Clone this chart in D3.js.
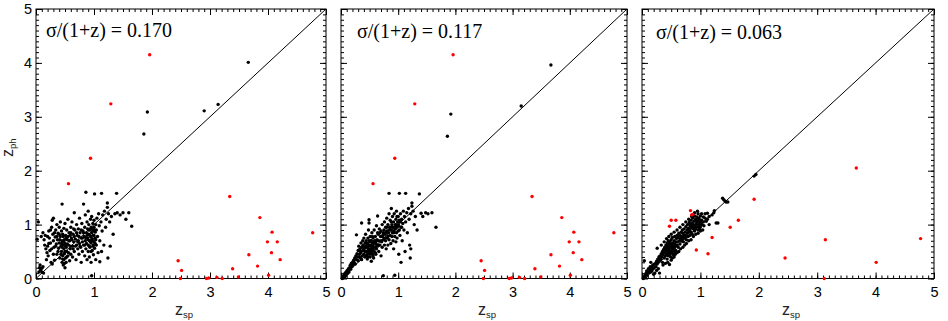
<!DOCTYPE html>
<html>
<head>
<meta charset="utf-8">
<script src="https://cdn.jsdelivr.net/npm/d3@7"></script>
<style>
  body { margin: 0; background: #fff; }
  svg { display: block; }
  .tick text { font-family: "Liberation Sans", Arial, sans-serif; font-size: 14.5px; fill: #000; }
</style>
</head>
<body>
<svg id="chart" width="948" height="321"></svg>
<script>
// axis ticks shared by all panels
const majorTicks = [0, 1, 2, 3, 4, 5]
const minorTicks = d3.range(0, 51).map((d) => d / 10)

// sigma/(1+z) for each panel
const sigmaLabels = ['0.170', '0.117', '0.063']

// black points: [z_sp, z_ph], panel 1
const blackA = [
  [0.02,0.73],[0.04,1.05],[0.05,0.12],[0.06,0.2],[0.07,0.25],[0.08,0.16],[0.1,0.19],[0.1,0.12],[0.12,0.22],[0.13,0.1],
  [0.09,0.78],[0.12,0.85],[0.14,0.72],[0.16,0.8],[0.17,0.55],[0.19,0.48],[0.2,0.6],[0.21,0.42],[0.22,0.88],[0.23,0.75],
  [0.24,0.52],[0.25,0.66],[0.26,0.3],[0.27,0.95],[0.28,0.27],[0.28,1.08],[0.29,0.82],[0.3,0.7],[0.3,1.12],[0.31,0.58],
  [0.32,0.34],[0.33,0.77],[0.34,0.9],[0.35,0.64],[0.36,0.45],[0.36,1.0],[0.37,0.72],[0.38,0.84],[0.39,0.56],[0.4,0.95],
  [0.4,0.66],[0.41,0.38],[0.42,0.78],[0.42,1.05],[0.43,0.6],[0.44,0.5],[0.44,0.88],[0.45,0.3],[0.45,1.38],[0.45,0.7],
  [0.46,0.42],[0.46,0.82],[0.47,0.25],[0.47,0.62],[0.48,0.55],[0.48,0.93],[0.48,0.35],[0.49,0.72],[0.49,0.46],[0.5,0.2],
  [0.5,0.65],[0.5,1.02],[0.51,0.38],[0.51,0.8],[0.52,0.58],[0.52,0.3],[0.53,0.9],[0.53,0.5],[0.54,0.72],[0.55,0.42],
  [0.55,1.1],[0.56,0.62],[0.57,0.85],[0.58,0.33],[0.58,0.7],[0.59,0.55],[0.6,0.95],[0.6,0.45],[0.61,0.75],[0.62,1.05],
  [0.63,0.6],[0.63,0.4],[0.64,0.82],[0.65,0.68],[0.66,1.22],[0.66,0.5],[0.67,0.9],[0.68,0.73],[0.69,0.35],[0.7,0.62],
  [0.7,1.0],[0.71,0.8],[0.72,0.55],[0.73,0.7],[0.73,0.92],[0.74,0.45],[0.75,1.12],[0.75,0.65],[0.76,0.85],[0.77,0.58],
  [0.78,0.75],[0.78,0.3],[0.79,1.02],[0.8,0.68],[0.8,0.5],[0.81,0.88],[0.82,1.38],[0.82,0.62],[0.83,0.78],[0.84,0.95],
  [0.84,0.42],[0.85,0.7],[0.85,1.18],[0.86,1.6],[0.86,0.55],[0.87,0.85],[0.87,0.65],[0.88,1.05],[0.88,0.35],[0.89,0.75],
  [0.89,0.92],[0.9,0.5],[0.9,1.25],[0.9,0.62],[0.91,0.82],[0.91,1.0],[0.92,0.4],[0.92,0.7],[0.93,0.9],[0.93,0.58],
  [0.94,1.1],[0.94,0.78],[0.95,0.3],[0.95,0.66],[0.95,0.95],[0.96,0.05],[0.96,0.85],[0.96,1.15],[0.97,0.52],[0.97,0.74],
  [0.98,1.02],[0.98,0.6],[0.98,0.88],[0.99,0.44],[0.99,0.8],[1.0,1.08],[1.0,0.68],[1.0,0.95],[1.01,1.57],[1.01,0.56],
  [1.02,0.86],[1.02,0.75],[1.03,1.0],[1.03,0.35],[1.04,0.62],[1.04,0.9],[1.05,1.12],[1.06,0.78],[1.07,0.48],[1.08,1.2],
  [1.09,0.98],[1.1,0.31],[1.1,0.7],[1.12,1.05],[1.13,0.5],[1.13,1.58],[1.14,0.88],[1.15,1.18],[1.17,0.62],[1.18,1.25],
  [1.2,0.95],[1.21,1.1],[1.23,1.4],[1.23,1.32],[1.24,0.38],[1.25,1.2],[1.27,1.05],[1.28,0.6],[1.3,1.15],[1.33,0.82],
  [1.36,1.2],[1.39,1.58],[1.4,1.22],[1.45,1.18],[1.5,1.22],[1.55,1.1],[1.6,1.22],[1.65,0.97],
  [0.15,0.62],[0.18,0.35],[0.2,0.78],[0.22,0.65],[0.25,0.9],[0.27,0.55],[0.3,0.45],[0.32,0.85],[0.34,0.6],[0.36,0.78],
  [0.38,0.5],[0.4,0.82],[0.41,0.72],[0.43,0.45],[0.44,0.65],[0.45,0.58],[0.46,0.36],[0.47,0.78],[0.48,0.68],[0.49,0.28],
  [0.5,0.5],[0.51,0.6],[0.52,0.75],[0.53,0.4],[0.54,0.64],[0.56,0.48],[0.57,0.7],[0.59,0.8],[0.6,0.6],[0.62,0.72],
  [0.64,0.55],[0.66,0.78],[0.68,0.6],[0.7,0.85],[0.72,0.68],[0.74,0.78],[0.76,0.6],[0.78,0.9],[0.8,0.75],[0.82,0.85],
  [0.84,0.62],[0.86,0.75],[0.88,0.8],[0.9,0.72],[0.91,0.9],[0.92,0.6],[0.93,0.8],[0.94,0.68],[0.95,0.5],[0.96,0.72],
  [0.97,0.92],[0.98,0.7],[0.99,0.62],[1.0,0.8],[1.01,0.9],[1.02,0.65],[1.03,0.72],[0.6,0.85],[0.55,0.78],[0.65,0.92],
  [1.86,2.68],[1.92,3.09],[2.9,3.11],[3.14,3.23],[3.66,4.01]
]

// black points, panel 2
const blackB = [
  [0.02,0.0],[0.03,0.04],[0.05,0.06],[0.06,0.02],[0.07,0.1],[0.08,0.05],[0.09,0.12],[0.1,0.08],[0.11,0.15],[0.12,0.1],
  [0.13,0.18],[0.14,0.12],[0.15,0.2],[0.16,0.24],[0.17,0.17],[0.18,0.28],[0.19,0.22],[0.2,0.3],[0.21,0.26],[0.22,0.34],
  [0.23,0.3],[0.24,0.38],[0.25,0.27],[0.26,0.42],[0.27,0.81],[0.27,0.35],[0.28,0.46],[0.29,0.4],[0.3,0.52],[0.3,0.33],
  [0.31,0.6],[0.32,0.45],[0.33,0.55],[0.34,0.38],[0.35,0.66],[0.35,0.48],[0.36,1.03],[0.36,0.58],[0.37,0.42],[0.38,0.7],
  [0.38,0.52],[0.39,0.62],[0.4,0.45],[0.4,0.75],[0.41,0.56],[0.42,0.66],[0.42,0.4],[0.43,0.6],[0.43,0.82],[0.44,0.5],
  [0.44,0.7],[0.45,0.44],[0.45,0.58],[0.46,0.65],[0.46,0.36],[0.47,0.75],[0.47,0.52],[0.48,0.6],[0.48,0.9],[0.49,1.09],
  [0.49,1.03],[0.49,0.46],[0.5,0.68],[0.5,0.55],[0.51,0.4],[0.51,0.78],[0.52,0.62],[0.52,0.5],[0.53,0.7],[0.53,0.32],
  [0.54,0.57],[0.54,0.85],[0.55,0.45],[0.55,0.66],[0.56,0.6],[0.56,0.75],[0.57,0.52],[0.57,0.38],[0.58,0.68],[0.58,0.9],
  [0.59,0.58],[0.6,0.48],[0.6,0.78],[0.61,0.65],[0.62,0.55],[0.62,0.98],[0.63,0.72],[0.64,1.16],[0.64,0.6],[0.65,0.82],
  [0.66,0.5],[0.66,0.7],[0.67,0.92],[0.68,0.62],[0.69,0.78],[0.7,0.42],[0.7,0.88],[0.71,0.68],[0.72,1.0],[0.72,0.58],
  [0.73,0.8],[0.74,0.05],[0.74,0.72],[0.75,0.9],[0.76,0.62],[0.76,1.05],[0.77,0.82],[0.78,0.7],[0.78,0.95],[0.79,0.55],
  [0.8,0.88],[0.8,1.12],[0.81,0.75],[0.82,1.0],[0.82,0.62],[0.83,0.85],[0.84,1.58],[0.84,0.72],[0.84,1.2],[0.85,0.95],
  [0.86,0.8],[0.86,1.08],[0.87,0.65],[0.88,0.9],[0.88,1.3],[0.89,0.78],[0.89,1.0],[0.9,0.85],[0.9,1.15],[0.91,0.7],
  [0.91,0.95],[0.92,1.05],[0.92,0.55],[0.93,0.88],[0.93,1.2],[0.94,0.06],[0.94,0.78],[0.95,1.0],[0.95,0.92],[0.96,1.1],
  [0.96,0.68],[0.97,0.85],[0.97,1.25],[0.98,0.95],[0.98,0.75],[0.99,1.05],[1.0,0.88],[1.0,1.15],[1.01,0.45],[1.01,0.98],
  [1.02,1.58],[1.02,1.08],[1.03,0.8],[1.04,1.2],[1.05,0.95],[1.05,0.3],[1.06,1.1],[1.07,0.7],[1.08,1.02],[1.09,1.25],
  [1.1,0.9],[1.11,1.15],[1.12,0.5],[1.13,1.58],[1.13,1.05],[1.15,1.22],[1.16,0.85],[1.18,1.3],[1.19,1.1],[1.2,0.62],
  [1.21,0.38],[1.22,1.2],[1.22,0.55],[1.24,1.4],[1.24,1.34],[1.26,1.25],[1.28,1.0],[1.3,1.15],[1.33,0.9],[1.37,1.57],
  [1.4,1.21],[1.43,1.15],[1.48,1.22],[1.52,1.2],[1.59,1.22],[1.66,0.95],
  [0.42,0.5],[0.44,0.42],[0.45,0.65],[0.46,0.5],[0.47,0.4],[0.48,0.55],[0.49,0.7],[0.5,0.45],[0.5,0.62],[0.51,0.52],
  [0.52,0.7],[0.53,0.6],[0.54,0.48],[0.55,0.55],[0.55,0.78],[0.56,0.42],[0.57,0.65],[0.58,0.5],[0.59,0.7],[0.6,0.58],
  [0.61,0.45],[0.62,0.7],[0.63,0.62],[0.64,0.85],[0.66,0.62],[0.68,0.85],[0.7,0.7],[0.72,0.78],[0.74,0.85],[0.76,0.75],
  [0.78,0.85],[0.8,0.95],[0.82,0.78],[0.84,0.9],[0.86,0.95],[0.88,1.05],[0.9,0.95],[0.92,0.85],[0.94,0.95],[0.96,1.0],
  [0.98,1.15],[1.0,1.0],[1.02,0.9],[1.04,1.05],[1.06,0.95],[0.34,0.5],[0.38,0.6],[0.4,0.55],[0.32,0.4],[0.36,0.35],
  [1.86,2.64],[1.92,3.05],[3.15,3.2],[3.67,3.96]
]

// black points, panel 3
const blackC = [
  [0.02,0.0],[0.03,0.03],[0.04,0.33],[0.05,0.06],[0.06,0.02],[0.07,0.1],[0.08,0.14],[0.09,0.06],[0.1,0.12],[0.11,0.18],
  [0.12,0.1],[0.13,0.16],[0.14,0.22],[0.15,0.12],[0.16,0.2],[0.17,0.14],[0.18,0.24],[0.19,0.18],[0.2,0.26],[0.21,0.2],
  [0.22,0.1],[0.23,0.28],[0.24,0.22],[0.25,0.32],[0.26,0.56],[0.26,0.27],[0.27,0.36],[0.28,0.3],[0.29,0.4],[0.3,0.34],
  [0.3,0.1],[0.31,0.42],[0.32,0.36],[0.33,0.46],[0.34,0.4],[0.35,0.5],[0.35,0.3],[0.36,0.44],[0.37,0.54],[0.38,0.38],
  [0.38,0.48],[0.39,0.58],[0.4,0.42],[0.4,0.52],[0.41,0.62],[0.42,0.46],[0.42,0.56],[0.43,0.36],[0.43,0.66],[0.44,0.5],
  [0.44,0.6],[0.45,0.42],[0.45,0.7],[0.46,0.54],[0.46,0.64],[0.47,0.46],[0.47,0.58],[0.48,0.68],[0.48,0.5],[0.49,0.62],
  [0.49,0.4],[0.5,0.56],[0.5,0.72],[0.51,0.48],[0.51,0.64],[0.52,0.58],[0.52,0.76],[0.53,0.52],[0.53,0.66],[0.54,0.6],
  [0.54,0.44],[0.55,0.7],[0.55,0.56],[0.56,0.64],[0.56,0.78],[0.57,0.6],[0.58,0.68],[0.58,0.52],[0.59,0.74],[0.6,0.62],
  [0.6,0.8],[0.61,0.68],[0.62,0.58],[0.62,0.76],[0.63,0.84],[0.64,0.7],[0.65,0.64],[0.65,0.8],[0.66,0.74],[0.67,0.86],
  [0.68,0.7],[0.68,0.78],[0.69,0.9],[0.7,0.74],[0.7,0.84],[0.71,0.68],[0.72,0.8],[0.72,0.92],[0.73,0.76],[0.74,0.86],
  [0.75,0.96],[0.75,0.8],[0.76,0.72],[0.77,0.9],[0.78,0.84],[0.78,1.0],[0.79,0.78],[0.8,0.94],[0.8,0.86],[0.81,1.04],
  [0.82,0.9],[0.82,0.8],[0.83,0.98],[0.84,1.08],[0.84,0.86],[0.85,0.94],[0.86,1.02],[0.86,0.82],[0.87,1.12],[0.88,0.92],
  [0.88,1.0],[0.89,1.06],[0.9,0.88],[0.9,1.16],[0.91,0.98],[0.92,1.1],[0.92,0.92],[0.93,1.02],[0.94,1.14],[0.94,0.96],
  [0.95,1.06],[0.96,0.9],[0.96,1.2],[0.97,1.0],[0.98,1.1],[0.98,0.94],[0.99,1.04],[1.0,1.16],[1.0,0.96],[1.02,1.08],
  [1.03,1.0],[1.05,1.14],[1.06,0.98],[1.08,1.2],[1.1,1.06],[1.12,1.21],[1.15,1.15],[1.2,1.18],[1.23,1.22],[1.24,1.26],
  [1.27,1.03],[1.3,1.03],[1.38,1.49],[1.4,1.46],[1.42,1.44],[1.44,1.42],[1.47,1.42],[1.92,1.9],[1.95,1.93],
  [0.36,0.25],[0.4,0.28],[0.44,0.3],[0.47,0.26],[0.5,0.34],[0.52,0.38],[0.55,0.4],[0.57,0.45],[0.6,0.48],[0.63,0.5],
  [0.66,0.55],[0.7,0.58],[0.73,0.62],[0.76,0.65],[0.8,0.7],[0.84,0.72],[0.88,0.78],[0.92,0.82],[0.96,0.84],[1.0,0.88],
  [1.04,0.9],[0.33,0.62],[0.38,0.68],[0.42,0.74],[0.46,0.78],[0.5,0.82],[0.55,0.86],[0.6,0.9],[0.65,0.95],[0.7,1.0],
  [0.75,1.05],[0.8,1.1],[0.85,1.15],[0.9,1.22],[0.95,1.25],[1.0,1.05],[1.02,1.2],[1.05,1.05],[1.08,1.12],[1.12,1.1],
  [1.15,1.0],[0.48,0.44],[0.5,0.6],[0.52,0.52],[0.45,0.55],[0.47,0.66],[0.53,0.46],[0.56,0.5],[0.58,0.62],[0.9,0.95],
  [0.93,1.08],[0.97,1.12],[0.99,0.92],[0.86,0.96],[0.83,1.0],[0.79,0.92],[0.15,0.3],[0.2,0.08],[0.25,0.15],[0.28,0.18]
]

// red outliers, panels 1 and 2
const redAB = [
  [1.96,4.15],[1.29,3.24],[0.94,2.23],[0.56,1.76],[3.34,1.52],[3.86,1.13],[4.77,0.85],[4.07,0.86],[3.99,0.68],[4.16,0.68],
  [4.06,0.48],[3.67,0.44],[4.21,0.35],[3.82,0.23],[3.39,0.18],[2.45,0.33],[2.51,0.15],[4.01,0.06],[3.49,0.03],[3.12,0.02],
  [2.98,0.01],[2.94,0.0],[3.21,0.0],[2.49,0.0]
]

// red outliers, panel 3
const redC = [
  [3.67,2.05],[1.92,1.47],[1.65,1.08],[1.51,0.95],[1.2,0.76],[1.13,0.46],[0.93,0.53],[0.47,0.97],[0.5,1.08],[0.58,1.08],
  [0.83,1.26],[0.85,1.18],[0.87,1.19],[3.14,0.72],[4.77,0.74],[2.45,0.38],[4.01,0.3],[3.12,0.0]
]

const svg = d3.select('#chart')
const plotTop = 9
const plotBottom = 278.5

const panels = [
  { left: 36, right: 326, black: blackA, red: redAB, sigma: sigmaLabels[0], tx: 46, ty: 37, first: true },
  { left: 341, right: 627, black: blackB, red: redAB, sigma: sigmaLabels[1], tx: 357, ty: 37.5 },
  { left: 642, right: 934, black: blackC, red: redC, sigma: sigmaLabels[2], tx: 656, ty: 38.5 },
]

panels.forEach((p) => {
  const x = d3.scaleLinear().domain([0, 5]).range([p.left, p.right])
  const y = d3.scaleLinear().domain([0, 5]).range([plotBottom, plotTop])
  const g = svg.append('g')

  // inward ticks on all four sides
  const addAxis = (axisFn, scale, tx, ty, size, values, labels) => {
    const ax = axisFn(scale).tickValues(values).tickSize(-size)
    if (labels) ax.tickFormat(d3.format('d')).tickPadding(axisFn === d3.axisBottom ? 8 : 4)
    else ax.tickFormat('')
    const a = g.append('g').attr('transform', `translate(${tx},${ty})`).call(ax)
    a.select('.domain').remove()
    a.selectAll('line').attr('stroke', '#000')
  }
  addAxis(d3.axisBottom, x, 0, plotBottom, 3, minorTicks, false)
  addAxis(d3.axisBottom, x, 0, plotBottom, 6, majorTicks, true)
  addAxis(d3.axisTop, x, 0, plotTop, 3, minorTicks, false)
  addAxis(d3.axisTop, x, 0, plotTop, 6, majorTicks, false)
  addAxis(d3.axisLeft, y, p.left, 0, 3, minorTicks, false)
  addAxis(d3.axisLeft, y, p.left, 0, 6, majorTicks, !!p.first)
  addAxis(d3.axisRight, y, p.right, 0, 3, minorTicks, false)
  addAxis(d3.axisRight, y, p.right, 0, 6, majorTicks, false)

  g.append('rect')
    .attr('x', p.left).attr('y', plotTop)
    .attr('width', p.right - p.left).attr('height', plotBottom - plotTop)
    .attr('fill', 'none').attr('stroke', '#000').attr('stroke-width', 1)

  // one-to-one line
  g.append('line')
    .attr('x1', x(0)).attr('y1', y(0))
    .attr('x2', x(5)).attr('y2', y(5))
    .attr('stroke', '#000').attr('stroke-width', 1)

  g.selectAll('circle.blk').data(p.black).join('circle')
    .attr('class', 'blk')
    .attr('cx', (d) => x(d[0])).attr('cy', (d) => y(d[1]))
    .attr('r', 1.7).attr('fill', '#000')

  g.selectAll('circle.red').data(p.red).join('circle')
    .attr('class', 'red')
    .attr('cx', (d) => x(d[0])).attr('cy', (d) => y(d[1]))
    .attr('r', 1.7).attr('fill', '#ff0000')

  g.append('text')
    .attr('x', p.tx).attr('y', p.ty)
    .attr('font-family', '"Liberation Serif", "Times New Roman", serif')
    .attr('font-size', 20)
    .text(`σ/(1+z) = ${p.sigma}`)

  // x label z_sp
  const xl = g.append('text')
    .attr('x', (p.left + p.right) / 2 + 3).attr('y', 315)
    .attr('text-anchor', 'middle')
    .attr('font-family', '"Liberation Sans", Arial, sans-serif')
    .attr('font-size', 16).attr('fill', '#222')
  xl.append('tspan').text('z')
  xl.append('tspan').attr('font-size', 9.5).attr('dy', 3).text('sp')

  if (p.first) {
    const yl = g.append('text')
      .attr('transform', `translate(13,${(plotTop + plotBottom) / 2 + 4}) rotate(-90)`)
      .attr('text-anchor', 'middle')
      .attr('font-family', '"Liberation Sans", Arial, sans-serif')
      .attr('font-size', 16).attr('fill', '#222')
    yl.append('tspan').text('z')
    yl.append('tspan').attr('font-size', 9.5).attr('dy', 3).text('ph')
  }
})
</script>
</body>
</html>
